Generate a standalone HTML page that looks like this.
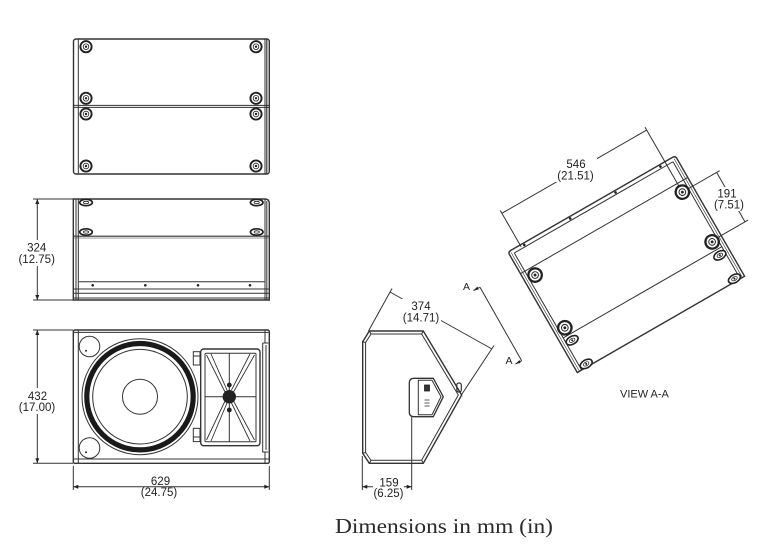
<!DOCTYPE html>
<html><head><meta charset="utf-8"><style>
html,body{margin:0;padding:0;background:#fff;}
svg{display:block;}
text{font-family:"Liberation Sans",sans-serif;fill:#222;}
.d{font-size:11.5px;text-anchor:middle;}
</style></head><body>
<svg width="765" height="560" viewBox="0 0 765 560" xmlns="http://www.w3.org/2000/svg">
<defs>
<g id="k"><circle r="5.6" fill="#fff" stroke="#222" stroke-width="1.9"/><circle r="2.8" fill="none" stroke="#222" stroke-width=".8"/><circle r="1.2" fill="#222"/></g>
<g id="ko"><ellipse rx="6.3" ry="3.2" fill="#fff" stroke="#222" stroke-width="1.7"/><ellipse rx="2.6" ry="1.2" fill="none" stroke="#222" stroke-width=".8"/></g>
<g id="kb"><ellipse rx="6.5" ry="4" fill="#fff" stroke="#222" stroke-width="1.6"/><ellipse rx="3" ry="1.8" fill="none" stroke="#222" stroke-width=".8"/><circle r="1" fill="#222"/></g>
</defs>
<g fill="none" stroke="#333" stroke-width="1">
<!-- TOP VIEW -->
<rect x="73.5" y="39" width="195.8" height="135" rx="2.5" stroke-width="1.4"/>
<line x1="78.3" y1="39.5" x2="78.3" y2="173.5"/>
<line x1="265" y1="39.5" x2="265" y2="173.5"/>
<line x1="266.8" y1="39.5" x2="266.8" y2="173.5" stroke-width="1.2"/>
<line x1="73.5" y1="105.4" x2="269.3" y2="105.4"/>
<line x1="73.5" y1="107.4" x2="269.3" y2="107.4"/>
<!-- MIDDLE VIEW -->
<path d="M73.3,199 L265,199 Q269.3,199 269.3,203.5 L269.3,300 L73.3,300 Z" stroke-width="1.4"/>
<line x1="76" y1="199" x2="76" y2="300"/>
<line x1="78.3" y1="199" x2="78.3" y2="300"/>
<line x1="265" y1="199" x2="265" y2="300"/>
<line x1="266.8" y1="201" x2="266.8" y2="300"/>
<line x1="73.3" y1="236.2" x2="269.3" y2="236.2" stroke-width="1.2"/>
<line x1="73.3" y1="238" x2="269.3" y2="238" stroke-width=".6"/>
<line x1="79" y1="281.7" x2="265" y2="281.7"/>
<line x1="73.3" y1="289" x2="269.3" y2="289"/>
<line x1="73.3" y1="293.3" x2="269.3" y2="293.3"/>
<line x1="73.3" y1="298" x2="269.3" y2="298"/>
<!-- FRONT VIEW -->
<rect x="73.3" y="330" width="196" height="133.3" rx="1.5" stroke-width="1.4"/>
<line x1="73.3" y1="332.4" x2="269.3" y2="332.4"/>
<line x1="78.3" y1="330" x2="78.3" y2="463.3"/>
<line x1="73.3" y1="459" x2="269.3" y2="459"/>
<line x1="265" y1="330" x2="265" y2="343"/>
<line x1="265" y1="452" x2="265" y2="463.3"/>
<path d="M262.7,343 L268.3,343 M262.7,343 L262.7,452 L268.3,452 M266,345 L266,450"/>
<circle cx="89.5" cy="346.5" r="10.3"/>
<circle cx="89.5" cy="448" r="10.3"/>
<circle cx="140" cy="396.7" r="58"/>
<circle cx="140" cy="396.7" r="53.2" stroke="#1a1a1a" stroke-width="5.2"/>
<circle cx="140" cy="396.7" r="47.3"/>
<circle cx="140" cy="396.7" r="17.5"/>
<rect x="193.3" y="351.7" width="6.7" height="13.3"/>
<line x1="193.3" y1="356" x2="200" y2="356"/>
<rect x="193.3" y="428.3" width="6.7" height="13.3"/>
<line x1="193.3" y1="437" x2="200" y2="437"/>
<rect x="200.7" y="349" width="59.3" height="96.7" rx="3" stroke-width="1.4"/>
<rect x="205" y="353.3" width="51" height="88.4" rx="1"/>
<line x1="229.3" y1="353.3" x2="229.3" y2="441.7"/>
<line x1="205" y1="396.7" x2="256" y2="396.7"/>
<path d="M206.5,355 L225,392 M211,354 L227,390 M254.5,355 L233.5,392 M250,354 L231.5,390 M206.5,440 L225,401 M211,441 L227,403 M254.5,440 L233.5,401 M250,441 L231.5,403" stroke-width=".9"/>
<!-- SIDE VIEW -->
<polygon points="362.7,341.7 369.3,331 423.3,331 461.7,395 423.3,463.3 369.3,463.3 362.7,453.3" stroke-width="1.4"/>
<polygon points="365.6,342.5 371,334 421.6,334 458.3,395 421.6,460.3 371,460.3 365.6,452.5"/>
<path d="M362.7,341.7 L365.6,342.5 M369.3,331 L371,334 M423.3,331 L421.6,334 M423.3,463.3 L421.6,460.3 M369.3,463.3 L371,460.3 M362.7,453.3 L365.6,452.5"/>
<rect x="456.8" y="383" width="4.5" height="9" rx="2" stroke-width="1.2"/>
<path d="M409.3,383 Q409.3,378.3 414,378.3 L433.3,378.3 L443.3,396.7 L433.3,416.7 L414,416.7 Q409.3,416.7 409.3,412 Z" stroke-width="1.3"/>
<path d="M418.3,380.3 L432,380.3 L441,396.7 L432,414.7 L418.3,414.7 Z"/>
<!-- dims side -->
<line x1="392" y1="288.5" x2="368.5" y2="331"/>
<line x1="494" y1="345.5" x2="461" y2="395.5"/>
<line x1="390" y1="292" x2="492" y2="349"/>
<line x1="362.3" y1="456" x2="362.3" y2="490"/>
<line x1="411.7" y1="417" x2="411.7" y2="490"/>
<line x1="362.3" y1="486.7" x2="411.7" y2="486.7"/>
<!-- section A-A -->
<line x1="480" y1="287.3" x2="521.7" y2="360.7"/>
<path d="M480,287.3 L473.5,290.5 M521.7,360.7 L515.5,364"/>
<!-- dims left -->
<line x1="33" y1="199" x2="73" y2="199"/>
<line x1="33" y1="300" x2="73" y2="300"/>
<line x1="37.3" y1="199" x2="37.3" y2="300"/>
<line x1="33" y1="330" x2="73" y2="330"/>
<line x1="33" y1="463.3" x2="73" y2="463.3"/>
<line x1="37.3" y1="330" x2="37.3" y2="463.3"/>
<line x1="73.3" y1="466" x2="73.3" y2="490"/>
<line x1="269.3" y1="466" x2="269.3" y2="490"/>
<line x1="73.3" y1="486.7" x2="269.3" y2="486.7"/>
</g>
<!-- knobs top view -->
<use href="#k" x="86" y="46.7"/><use href="#k" x="256" y="46.7"/>
<use href="#k" x="86" y="98.3"/><use href="#k" x="256" y="98.3"/>
<use href="#k" x="86" y="114"/><use href="#k" x="256" y="114"/>
<use href="#k" x="86" y="166"/><use href="#k" x="256" y="166"/>
<!-- knobs middle view -->
<use href="#ko" x="86" y="202.5"/><use href="#ko" x="256.7" y="202.5"/>
<use href="#ko" x="86" y="232"/><use href="#ko" x="256.7" y="232"/>
<g fill="#222">
<circle cx="92.7" cy="285.3" r="1.3"/><circle cx="145.3" cy="285.3" r="1.3"/><circle cx="198" cy="285.3" r="1.3"/><circle cx="250" cy="285.3" r="1.3"/>
<circle cx="86" cy="350.7" r="1"/><circle cx="86" cy="452.3" r="1"/>
<circle cx="229.3" cy="396.7" r="6.7"/>
<circle cx="229.3" cy="385" r="2.4"/><circle cx="229.3" cy="410" r="2.4"/>
<path d="M473.5,290.5 l4,-4 l1,3 z M515.5,364 l4,-4 l1,3 z"/>
<path d="M37.3,199 l-2,5 h4 z M37.3,300 l-2,-5 h4 z M37.3,330 l-2,5 h4 z M37.3,463.3 l-2,-5 h4 z M73.3,486.7 l5,-2 v4 z M269.3,486.7 l-5,-2 v4 z M362.3,486.7 l5,-2 v4 z M411.7,486.7 l-5,-2 v4 z"/>
</g>
<g fill="#fff" stroke="#222" stroke-width=".8">
<rect x="424.5" y="385" width="5" height="6" fill="#333"/>
<path d="M424.5,400 h5 M424.5,403 h5 M424.5,406 h5"/>
</g>
<!-- VIEW A-A -->
<g transform="translate(508,252) rotate(-29.9)">
<g fill="none" stroke="#333" stroke-width="1">
<path d="M0,139 L0,3 Q0,0 3,0 L190,0 Q193,0 193,3 L193,139 Z" stroke-width="1.4"/>
<line x1="5" y1="4" x2="188" y2="4"/>
<line x1="5" y1="4" x2="5" y2="139"/>
<line x1="188" y1="4" x2="188" y2="139"/>
<line x1="2.5" y1="2" x2="2.5" y2="139" stroke-width=".6"/>
<line x1="190.5" y1="2" x2="190.5" y2="139" stroke-width=".6"/>
<line x1="0" y1="25" x2="193" y2="25"/>
<line x1="5" y1="102" x2="188" y2="102"/>
<line x1="14" y1="2" x2="14" y2="-40"/>
<line x1="181" y1="28" x2="181" y2="-40"/>
<line x1="14" y1="-36.6" x2="181" y2="-36.6"/>
<line x1="186" y1="35" x2="224" y2="35"/>
<line x1="190" y1="92" x2="224" y2="92"/>
<line x1="220.5" y1="35" x2="220.5" y2="92"/>
</g>
<g fill="#222">
<circle cx="17.6" cy="2" r="1.3"/><circle cx="70.6" cy="2" r="1.3"/><circle cx="122.9" cy="2" r="1.3"/><circle cx="174.7" cy="2" r="1.3"/>
</g>
<use href="#k" transform="translate(12,33.5) scale(1.2)"/>
<use href="#k" transform="translate(181,35) scale(1.2)"/>
<use href="#k" transform="translate(182,93) scale(1.2)"/>
<use href="#k" transform="translate(11.5,94) scale(1.2)"/>
<use href="#kb" x="182" y="108.5"/>
<use href="#kb" x="183" y="136"/>
<use href="#kb" x="11.6" y="108.5"/>
<use href="#kb" x="12" y="136"/>
</g>
<!-- white gaps behind dimension text -->
<g fill="#fff">
<rect x="18" y="240" width="38" height="26"/>
<rect x="18" y="388" width="39" height="26"/>
<rect x="401" y="299" width="40" height="25"/>
<rect x="373" y="477" width="31" height="22"/>
<rect x="555" y="157" width="42" height="25"/>
<rect x="713" y="187" width="32" height="24"/>
</g>
<!-- texts -->
<text class="d" x="36.7" y="251.5">324</text>
<text class="d" x="36.7" y="263">(12.75)</text>
<text class="d" x="37.5" y="400">432</text>
<text class="d" x="37" y="411">(17.00)</text>
<text class="d" x="160.5" y="485">629</text>
<text class="d" x="159" y="496">(24.75)</text>
<text class="d" x="421" y="310">374</text>
<text class="d" x="421" y="321.5">(14.71)</text>
<text class="d" x="389" y="486.5">159</text>
<text class="d" x="388.5" y="497">(6.25)</text>
<text class="d" x="576" y="168">546</text>
<text class="d" x="575.5" y="179.5">(21.51)</text>
<text class="d" x="727" y="197.5">191</text>
<text class="d" x="729" y="208.5">(7.51)</text>
<text x="466.5" y="290" style="font-size:10.5px;text-anchor:middle">A</text>
<text x="509" y="364" style="font-size:10.5px;text-anchor:middle">A</text>
<text x="620" y="397.5" style="font-size:11px">VIEW A-A</text>
<text x="335" y="533" textLength="218" lengthAdjust="spacingAndGlyphs" style="font-family:'Liberation Serif',serif;font-size:21px;fill:#2a2a2a">Dimensions in mm (in)</text>
</svg>
</body></html>
